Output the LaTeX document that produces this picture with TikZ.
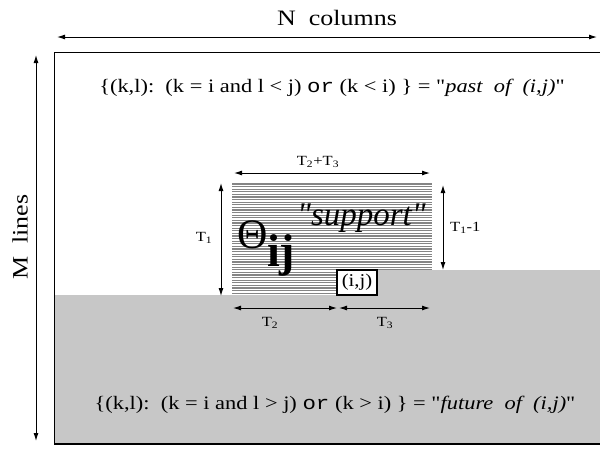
\documentclass[tikz,border=0pt]{standalone}
\usepackage{fontspec}
\usepackage{graphicx}
\setmainfont{Liberation Serif}[Ligatures=TeXOff]
\setmonofont{Liberation Mono}[Ligatures=TeXOff]
\usetikzlibrary{arrows.meta}
\definecolor{futuregray}{gray}{0.78}
\definecolor{hatchgray}{gray}{0.52}
\newcommand{\wideT}[1]{\scalebox{1.18}[1]{#1}}
\begin{document}
\begin{tikzpicture}[x=1pt,y=-1pt,
  dimarrow/.style={{Latex[length=8pt,width=5pt]}-{Latex[length=8pt,width=5pt]}, line width=1pt},
  lbl/.style={inner sep=0pt, font=\fontsize{14}{14}\selectfont},
  big/.style={inner sep=0pt, font=\fontsize{22}{22}\selectfont},
  formula/.style={inner sep=0pt, font=\fontsize{19}{19}\selectfont},
  cellbox/.style={draw, line width=2pt, fill=white, minimum width=40pt, minimum height=25pt, inner sep=0pt, font=\fontsize{18}{18}\selectfont}]
\useasboundingbox (0,0) rectangle (600,451);
% support hatch
\begin{scope}
  \clip (232,183) rectangle (432,295);
  \foreach \y in {184,186.6,...,295} \draw[hatchgray, line width=1.2pt] (232,\y) -- (432,\y);
\end{scope}
% future region
\fill[futuregray] (54,444) -- (54,295) -- (377,295) -- (377,270) -- (605,270) -- (605,444) -- cycle;
% outer frame
\draw[line width=1pt] (605,52) -- (54,52) -- (54,444);
\draw[line width=1.6pt] (54,444) -- (605,444);
% (i,j) cell
\node[cellbox] (cell) at (357,282.5) {\scalebox{1.15}[1]{(i,j)}};
% coordinates
\coordinate (nL) at (57,37); \coordinate (nR) at (597,37);
\coordinate (mT) at (36,55); \coordinate (mB) at (36,441);
\coordinate (t23L) at (234,173); \coordinate (t23R) at (430,173);
\coordinate (t1T) at (221,183); \coordinate (t1B) at (221,296);
\coordinate (t11T) at (443,185); \coordinate (t11B) at (443,270);
\coordinate (t2L) at (233,308); \coordinate (t2R) at (337,308);
\coordinate (t3L) at (339,308); \coordinate (t3R) at (430,308);
% arrows
\draw[dimarrow] (nL) -- (nR);
\draw[dimarrow] (mT) -- (mB);
\draw[dimarrow] (t23L) -- (t23R);
\draw[dimarrow] (t1T) -- (t1B);
\draw[dimarrow] (t11T) -- (t11B);
\draw[dimarrow] (t2L) -- (t2R);
\draw[dimarrow] (t3L) -- (t3R);
% labels
\node[big] (ncol) at (337,18) {\wideT{N\ \ columns}};
\node[big, rotate=90] (mlin) at (20,237) {\wideT{M\ \ lines}};
\node[lbl] (lt23) at (318,162) {\wideT{T\textsubscript{2}+T\textsubscript{3}}};
\node[lbl] (lt1) at (204,238) {\wideT{T\textsubscript{1}}};
\node[lbl, anchor=west] (lt11) at (450,228) {\wideT{T\textsubscript{1}-1}};
\node[lbl] (lt2) at (270,323) {\wideT{T\textsubscript{2}}};
\node[lbl] (lt3) at (385,323) {\wideT{T\textsubscript{3}}};
% theta and support
\node[inner sep=0pt, anchor=base west, font=\fontsize{42}{42}\selectfont] (theta) at (237,248) {Θ};
\node[inner sep=0pt, anchor=base west, font=\fontsize{46}{46}\selectfont\bfseries] (ij) at (267,266) {ij};
\node[inner sep=0pt, anchor=base west, font=\fontsize{33}{33}\selectfont\itshape] (supp) at (297,225) {"support"};
% formulas
\node[formula] (past) at (332,88) {\wideT{\{(k,l):\ \ (k = i and l < j) \texttt{or} (k < i) \} = "\textit{past\ \ of\ \ (i,j)}"}};
\node[formula] (future) at (335,405) {\wideT{\{(k,l):\ \ (k = i and l > j) \texttt{or} (k > i) \} = "\textit{future\ \ of\ \ (i,j)}"}};
\end{tikzpicture}
\end{document}
